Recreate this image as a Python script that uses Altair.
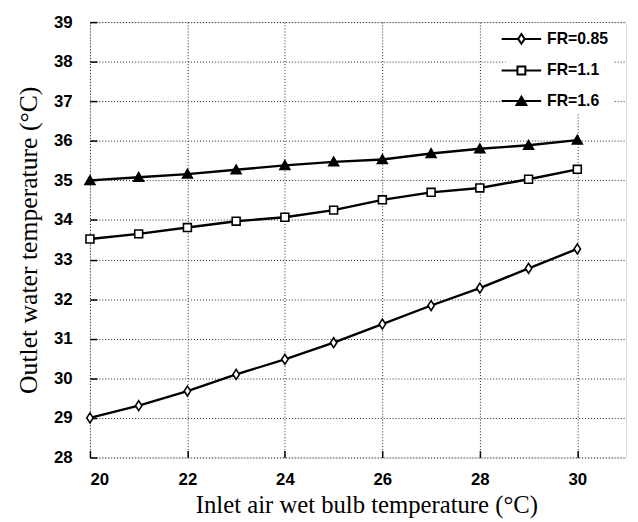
import altair as alt
import pandas as pd

x_vals = [20, 21, 22, 23, 24, 25, 26, 27, 28, 29, 30]
fr_085 = [29.0, 29.31, 29.68, 30.1, 30.48, 30.9, 31.37, 31.84, 32.28, 32.78, 33.27]
fr_11 = [33.52, 33.65, 33.81, 33.97, 34.07, 34.25, 34.51, 34.7, 34.81, 35.03, 35.28]
fr_16 = [35.0, 35.08, 35.16, 35.27, 35.38, 35.47, 35.53, 35.68, 35.8, 35.89, 36.02]
series_names = ["FR=0.85", "FR=1.1", "FR=1.6"]
x_ticks = [20, 22, 24, 26, 28, 30]
y_ticks = [28, 29, 30, 31, 32, 33, 34, 35, 36, 37, 38, 39]

rows = []
for name, vals in zip(series_names, [fr_085, fr_11, fr_16]):
    for xv, yv in zip(x_vals, vals):
        rows.append({"x": xv, "y": yv, "series": name})
df = pd.DataFrame(rows)

xs = alt.Scale(domain=[20, 31], nice=False, zero=False)
ys = alt.Scale(domain=[28, 39], nice=False, zero=False)

label_font = "Liberation Sans, Arial, sans-serif"
title_font = "Liberation Serif, Times New Roman, serif"

common = dict(labelFont=label_font, labelFontSize=17, labelFontWeight="bold",
              labelColor="black", titleFont=title_font,
              titleFontWeight="normal", titleColor="black", ticks=False, domain=False,
              grid=True, gridColor="#222222", gridDash=[1, 2], gridWidth=1)

lines = alt.Chart(df).mark_line(color="black", strokeWidth=2.4).encode(
    x=alt.X("x:Q", scale=xs, axis=alt.Axis(values=x_ticks, title="Inlet air wet bulb temperature (°C)",
                                           labelPadding=14, titlePadding=6, titleFontSize=25,
                                           titleX=280, orient="bottom", **common)),
    y=alt.Y("y:Q", scale=ys, axis=alt.Axis(values=y_ticks, title="Outlet water temperature (°C)",
                                           labelPadding=18, titlePadding=12, titleFontSize=26,
                                           orient="left", **common)),
    detail="series:N",
)

pt_shapes = ["M0,-1L0.65,0L0,1L-0.65,0Z",
             "M-0.8,-0.8L0.8,-0.8L0.8,0.8L-0.8,0.8Z",
             "M-1,0.8L0,-0.95L1,0.8Z"]
fills = ["white", "white", "black"]

tick_kw = dict(labels=False, grid=False, domain=False, ticks=True, tickSize=7,
               tickColor="black", tickWidth=1.5, offset=-7, title=None)

points = alt.Chart(df).mark_point(stroke="black", strokeWidth=1.6, opacity=1, fillOpacity=1, size=100).encode(
    x=alt.X("x:Q", scale=xs, axis=alt.Axis(values=x_ticks, orient="bottom", **tick_kw)),
    y=alt.Y("y:Q", scale=ys, axis=alt.Axis(values=y_ticks, orient="left", **tick_kw)),
    shape=alt.Shape("series:N", scale=alt.Scale(domain=series_names, range=pt_shapes), legend=None),
    fill=alt.Fill("series:N", scale=alt.Scale(domain=series_names, range=fills), legend=None),
)

tri = "M-0.5,0.4L0,-0.45L0.5,0.4ZM-0.35,0.28L0,-0.3L0.35,0.28ZM-0.2,0.16L0,-0.15L0.2,0.16ZM-0.05,0.05L0,0L0.05,0.05Z"
leg_shapes = ["M-2,0L-0.33,0M0.33,0L2,0M0,-0.5L0.33,0L0,0.5L-0.33,0Z",
              "M-2,0L-0.4,0M0.4,0L2,0M-0.4,-0.4L0.4,-0.4L0.4,0.4L-0.4,0.4Z",
              "M-2,0L2,0" + tri]

leg = alt.Legend(title=None, orient="none", legendX=421, legendY=1, padding=5,
                 fillColor="white", labelFont=label_font, labelFontSize=16,
                 labelFontWeight="bold", labelColor="black", symbolSize=400,
                 symbolStrokeWidth=2, symbolStrokeColor="black", symbolFillColor="white",
                 labelOffset=15, rowPadding=12, symbolOpacity=1,
                 labelExpr="datum.label + '     '")

legend_layer = alt.Chart(df).transform_filter("false").mark_point(
    stroke="black", strokeWidth=2, opacity=1, filled=False).encode(
    shape=alt.Shape("series:N", scale=alt.Scale(domain=series_names, range=leg_shapes), legend=leg),
)

chart = alt.layer(lines, points, legend_layer).resolve_scale(
    shape="independent", fill="independent"
).resolve_axis(x="independent", y="independent").properties(
    width=543, height=441,
    autosize=alt.AutoSizeParams(type="none"),
    padding={"left": 83, "top": 11, "right": 4, "bottom": 60},
).configure_view(stroke="black", strokeWidth=2).configure(background="white")

chart.save("out.html", embed_options={"renderer": "svg", "actions": False})
